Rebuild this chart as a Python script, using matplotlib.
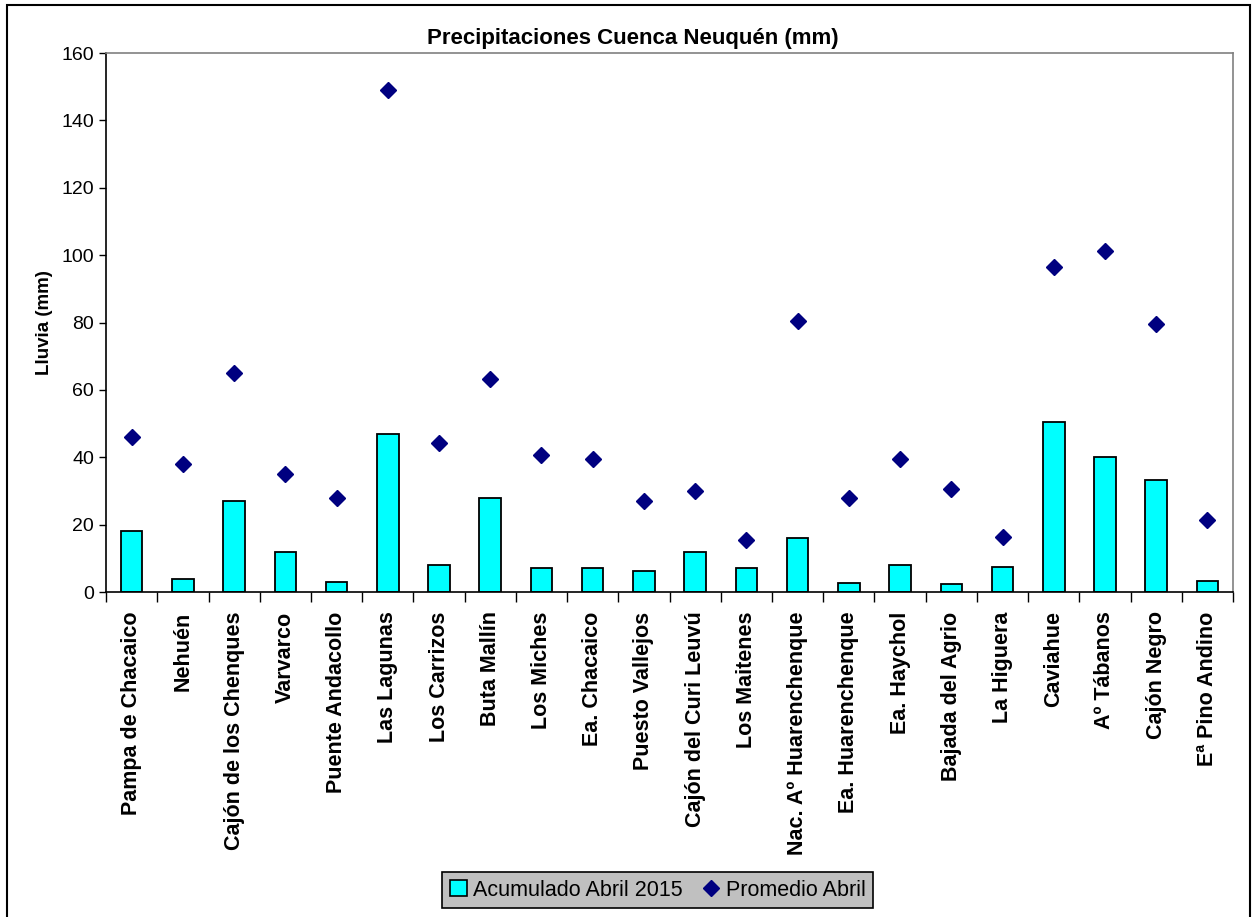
import matplotlib

matplotlib.use("Agg")
import matplotlib.pyplot as plt
from matplotlib.lines import Line2D
from matplotlib.patches import Patch, Rectangle
import numpy as np

plt.rcParams["font.family"] = ["Liberation Sans", "DejaVu Sans"]

# Rain gauge stations of the Neuquén basin
estaciones = [
    "Pampa de Chacaico", "Nehuén", "Cajón de los Chenques", "Varvarco",
    "Puente Andacollo", "Las Lagunas", "Los Carrizos", "Buta Mallín",
    "Los Miches", "Ea. Chacaico", "Puesto Vallejos", "Cajón del Curi Leuvú",
    "Los Maitenes", "Nac. Aº Huarenchenque", "Ea. Huarenchenque",
    "Ea. Haychol", "Bajada del Agrio", "La Higuera", "Caviahue",
    "Aº Tábanos", "Cajón Negro", "Eª Pino Andino",
]
# accumulated rainfall, April 2015 (mm)
acumulado = [18.0, 4.0, 27.0, 12.0, 3.1, 47.0, 8.0, 28.0, 7.2, 7.2, 6.3,
             12.0, 7.2, 16.0, 2.8, 8.0, 2.3, 7.5, 50.5, 40.0, 33.2, 3.2]
# long-term April mean (mm)
promedio = [46.0, 38.0, 65.0, 35.0, 27.9, 149.0, 44.2, 63.2, 40.7, 39.4,
            26.9, 30.1, 15.5, 80.5, 27.9, 39.4, 30.5, 16.4, 96.4, 101.3,
            79.5, 21.3]

x = np.arange(len(estaciones))

fig = plt.figure(figsize=(12.55, 9.17), dpi=100)
ax = fig.add_axes([0.0845, 0.3544, 0.898, 0.5878])

ax.bar(x, acumulado, width=0.42, color="#00FFFF", edgecolor="black",
       linewidth=1.3, zorder=2)
ax.plot(x, promedio, linestyle="none", marker="D", markersize=8.5,
        color="#000080", zorder=3)

ax.set_xlim(-0.5, len(estaciones) - 0.5)
ax.set_ylim(0, 160)
ax.set_yticks(range(0, 161, 20))
ax.tick_params(axis="y", labelsize=14, length=5, width=1, direction="out")

# category labels centred, tick marks on the category boundaries
ax.set_xticks(x)
ax.set_xticklabels(estaciones, rotation=90, fontsize=15.5, fontweight="bold")
ax.tick_params(axis="x", which="major", length=0, pad=14)
ax.set_xticks(np.arange(-0.5, len(estaciones), 1.0), minor=True)
ax.tick_params(axis="x", which="minor", length=7, width=1, direction="out")

for side in ("left", "bottom"):
    ax.spines[side].set_color("black")
    ax.spines[side].set_linewidth(1.2)
for side in ("top", "right"):
    ax.spines[side].set_color("#808080")
    ax.spines[side].set_linewidth(1.2)

ax.set_ylabel("Lluvia (mm)", fontsize=13.5, fontweight="bold", labelpad=6)
fig.text(0.504, 0.9585, "Precipitaciones Cuenca Neuquén (mm)", fontsize=16,
         fontweight="bold", ha="center", va="center")

handles = [
    Patch(facecolor="#00FFFF", edgecolor="black", linewidth=1.2),
    Line2D([], [], linestyle="none", marker="D", markersize=8.5,
           color="#000080"),
]
leg = fig.legend(handles, ["Acumulado Abril 2015", "Promedio Abril"],
                 loc="center", bbox_to_anchor=(0.524, 0.0294), ncol=2,
                 fontsize=15.5, frameon=True, fancybox=False,
                 handlelength=0.8, handleheight=0.8, handletextpad=0.3,
                 columnspacing=0.9, borderpad=0.35, borderaxespad=0)
leg.get_frame().set_facecolor("#C0C0C0")
leg.get_frame().set_edgecolor("black")
leg.get_frame().set_linewidth(1.2)
leg.get_frame().set_alpha(1)

# outer chart border
fig.patches.append(Rectangle((7 / 1255, -0.05), 1243 / 1255, 1.05 - 5 / 917,
                             transform=fig.transFigure, fill=False,
                             edgecolor="black", linewidth=1.5))

fig.savefig("out.png", dpi=100, facecolor="white")
